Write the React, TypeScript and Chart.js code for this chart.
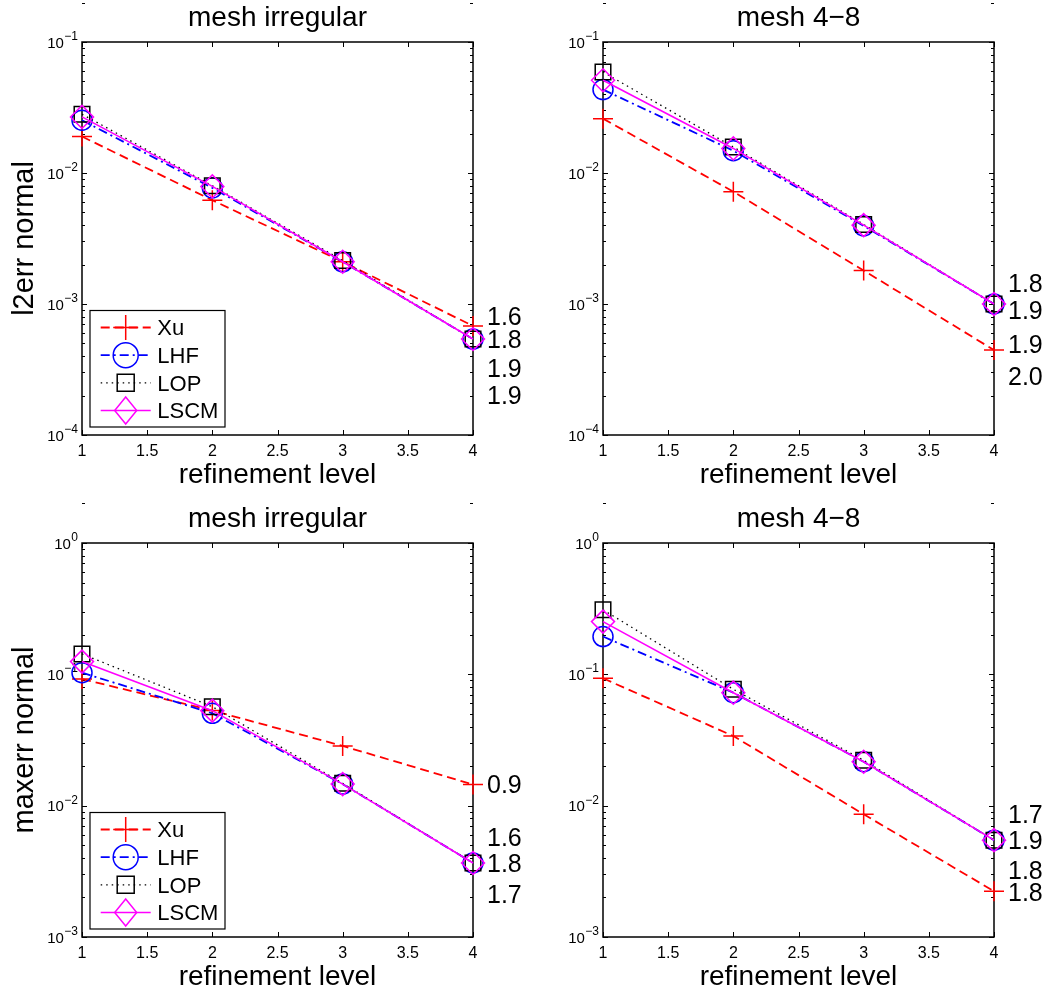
import React, { useEffect, useRef } from 'react';
import { Chart, registerables } from 'chart.js';

Chart.register(...registerables);

const FONT = "'Liberation Sans', Arial, Helvetica, sans-serif";

// ---------------- data ----------------
const levels = [1, 2, 3, 4];
const xTickValues = [1, 1.5, 2, 2.5, 3, 3.5, 4];
const seriesNames = ['Xu', 'LHF', 'LOP', 'LSCM'];

// l2err normal — mesh irregular
const l2IrregularXu = [0.019, 0.0062, 0.0021, 0.00068];
const l2IrregularLHF = [0.0253, 0.0077, 0.0021, 0.00054];
const l2IrregularLOP = [0.0281, 0.008, 0.00215, 0.00054];
const l2IrregularLSCM = [0.0268, 0.0079, 0.0021, 0.00054];
const l2IrregularRates = ['1.6', '1.8', '1.9', '1.9'];
const l2IrregularRateY = [0.000804, 0.00054, 0.000326, 0.000202];

// l2err normal — mesh 4-8
const l2Mesh48Xu = [0.026, 0.0072, 0.0018, 0.000445];
const l2Mesh48LHF = [0.0433, 0.0148, 0.00395, 0.001];
const l2Mesh48LOP = [0.059, 0.0158, 0.00405, 0.001];
const l2Mesh48LSCM = [0.051, 0.0154, 0.004, 0.001];
const l2Mesh48Rates = ['1.8', '1.9', '1.9', '2.0'];
const l2Mesh48RateY = [0.00145, 0.000898, 0.000492, 0.000282];

// maxerr normal — mesh irregular
const maxIrregularXu = [0.092, 0.053, 0.0285, 0.0145];
const maxIrregularLHF = [0.103, 0.0505, 0.0146, 0.00366];
const maxIrregularLOP = [0.143, 0.0567, 0.0148, 0.00366];
const maxIrregularLSCM = [0.125, 0.0529, 0.0146, 0.00366];
const maxIrregularRates = ['0.9', '1.6', '1.8', '1.7'];
const maxIrregularRateY = [0.0145, 0.00578, 0.00366, 0.00211];

// maxerr normal — mesh 4-8
const maxMesh48Xu = [0.0933, 0.0339, 0.0086, 0.00223];
const maxMesh48LHF = [0.194, 0.0725, 0.0216, 0.00546];
const maxMesh48LOP = [0.31, 0.0769, 0.0222, 0.00546];
const maxMesh48LSCM = [0.252, 0.0725, 0.0216, 0.00546];
const maxMesh48Rates = ['1.7', '1.9', '1.8', '1.8'];
const maxMesh48RateY = [0.0086, 0.00546, 0.00326, 0.0022];

const l2Decades = [-4, -3, -2, -1];
const maxDecades = [-3, -2, -1, 0];

// ---------------- styles ----------------
const seriesStyles = [
  { color: '#ff0000', dash: [9, 5], width: 1.8, pointStyle: 'cross', radius: 10 },
  { color: '#0000ff', dash: [9, 4, 2, 4], width: 1.8, pointStyle: 'circle', radius: 10 },
  { color: '#000000', dash: [1.5, 4], width: 1.3, pointStyle: 'rect', radius: 11 },
  { color: '#ff00ff', dash: [], width: 1.6, pointStyle: 'rectRot', radius: 11.5 },
];

function drawLegendMarker(ctx: CanvasRenderingContext2D, style: string, x: number, y: number) {
  ctx.beginPath();
  if (style === 'cross') {
    ctx.moveTo(x - 12.5, y); ctx.lineTo(x + 12.5, y);
    ctx.moveTo(x, y - 12.5); ctx.lineTo(x, y + 12.5);
  } else if (style === 'circle') {
    ctx.arc(x, y, 12.5, 0, Math.PI * 2);
  } else if (style === 'rect') {
    ctx.rect(x - 8.5, y - 8.5, 17, 17);
  } else {
    ctx.moveTo(x, y - 13.5); ctx.lineTo(x + 11, y); ctx.lineTo(x, y + 13.5); ctx.lineTo(x - 11, y);
    ctx.closePath();
  }
  ctx.stroke();
}

const matlabPlugin = {
  id: 'matlab',
  beforeDatasetsDraw(chart: any, _args: any, opts: any) {
    const ctx: CanvasRenderingContext2D = chart.ctx;
    const a = chart.chartArea;
    const xs = chart.scales.x;
    const ys = chart.scales.y;
    ctx.save();
    // box
    ctx.strokeStyle = '#000';
    ctx.lineWidth = 1.5;
    ctx.strokeRect(a.left, a.top, a.right - a.left, a.bottom - a.top);
    // ticks
    ctx.lineWidth = 1;
    ctx.beginPath();
    for (const t of xTickValues) {
      const px = Math.round(xs.getPixelForValue(t)) + 0.5;
      ctx.moveTo(px, a.bottom); ctx.lineTo(px, a.bottom - 5);
      ctx.moveTo(px, a.top); ctx.lineTo(px, a.top + 5);
    }
    const decs: number[] = opts.decades;
    for (let di = 0; di < decs.length; di++) {
      const e = decs[di];
      for (let k = 1; k <= 9; k++) {
        const v = k * Math.pow(10, e);
        const py = Math.round(ys.getPixelForValue(v)) + 0.5;
        const len = k === 1 ? 5 : 3;
        ctx.moveTo(a.left, py); ctx.lineTo(a.left + len, py);
        ctx.moveTo(a.right, py); ctx.lineTo(a.right - len, py);
      }
    }
    ctx.stroke();
    // y tick labels (10^e)
    const allDec = decs.concat([decs[decs.length - 1] + 1]);
    ctx.fillStyle = '#000';
    ctx.textBaseline = 'alphabetic';
    ctx.textAlign = 'left';
    for (const e of allDec) {
      const py = ys.getPixelForValue(Math.pow(10, e));
      const base = '10';
      const sup = e < 0 ? '\u2212' + Math.abs(e) : String(e);
      ctx.font = `15px ${FONT}`;
      const wb = ctx.measureText(base).width;
      ctx.font = `12px ${FONT}`;
      const ws = ctx.measureText(sup).width;
      const x0 = a.left - 4.5 - ws - wb;
      ctx.font = `15px ${FONT}`;
      ctx.fillText(base, x0, py + 5.5);
      ctx.font = `12px ${FONT}`;
      ctx.fillText(sup, x0 + wb + 0.5, py - 2);
    }
    ctx.restore();
  },
  afterDatasetsDraw(chart: any, _args: any, opts: any) {
    const ctx: CanvasRenderingContext2D = chart.ctx;
    const a = chart.chartArea;
    const ys = chart.scales.y;
    const cx = (a.left + a.right) / 2;
    ctx.save();
    ctx.fillStyle = '#000';
    ctx.textBaseline = 'alphabetic';
    // title
    ctx.textAlign = 'center';
    ctx.font = `28px ${FONT}`;
    ctx.fillText(opts.title, cx, a.top - 16);
    // x label
    ctx.fillText(opts.xlabel, cx, a.bottom + 48.3);
    // y label
    if (opts.ylabel) {
      ctx.save();
      ctx.translate(33, (a.top + a.bottom) / 2);
      ctx.rotate(-Math.PI / 2);
      ctx.font = `29px ${FONT}`;
      ctx.fillText(opts.ylabel, 0, 0);
      ctx.restore();
    }
    // rate labels
    ctx.textAlign = 'left';
    ctx.font = `25px ${FONT}`;
    const rt: string[] = opts.rateText;
    const ry: number[] = opts.rateY;
    for (let i = 0; i < rt.length; i++) {
      const py = ys.getPixelForValue(ry[i]);
      ctx.fillText(rt[i], a.right + 14, py + 0.358 * 25);
    }
    // legend
    if (opts.legend) {
      const bw = 135;
      const bh = 116.5;
      const bx = a.left + 8;
      const by = a.bottom - 8 - bh;
      ctx.fillStyle = '#fff';
      ctx.fillRect(bx, by, bw, bh);
      ctx.strokeStyle = '#000';
      ctx.lineWidth = 1.2;
      ctx.strokeRect(bx, by, bw, bh);
      const offs = [17, 44.7, 72.3, 100];
      chart.data.datasets.forEach((ds: any, i: number) => {
        const st = seriesStyles[i];
        const yy = by + offs[i];
        ctx.strokeStyle = st.color;
        ctx.lineWidth = st.width;
        ctx.setLineDash(st.dash);
        ctx.beginPath();
        ctx.moveTo(bx + 10.7, yy);
        ctx.lineTo(bx + 60.7, yy);
        ctx.stroke();
        ctx.setLineDash([]);
        ctx.lineWidth = 1.5;
        drawLegendMarker(ctx, st.pointStyle, bx + 35.7, yy);
        ctx.fillStyle = '#000';
        ctx.font = `22px ${FONT}`;
        ctx.fillText(ds.label, bx + 67.3, yy + 0.358 * 22);
      });
    }
    ctx.restore();
  },
};

type PanelSpec = {
  left: number; top: number; width: number; height: number;
  padTop: number; padRight: number; yAxisW: number; xAxisH: number;
  title: string; ylabel: string | null; legend: boolean;
  yMin: number; yMax: number; decades: number[];
  series: number[][]; rateText: string[]; rateY: number[];
};

const panels: PanelSpec[] = [
  {
    left: 0, top: 0, width: 530, height: 499, padTop: 42, padRight: 57, yAxisW: 82, xAxisH: 64,
    title: 'mesh irregular', ylabel: 'l2err normal', legend: true, yMin: 1e-4, yMax: 1e-1, decades: l2Decades,
    series: [l2IrregularXu, l2IrregularLHF, l2IrregularLOP, l2IrregularLSCM],
    rateText: l2IrregularRates, rateY: l2IrregularRateY,
  },
  {
    left: 530, top: 0, width: 529, height: 499, padTop: 42, padRight: 65, yAxisW: 73, xAxisH: 64,
    title: 'mesh 4\u22128', ylabel: null, legend: false, yMin: 1e-4, yMax: 1e-1, decades: l2Decades,
    series: [l2Mesh48Xu, l2Mesh48LHF, l2Mesh48LOP, l2Mesh48LSCM],
    rateText: l2Mesh48Rates, rateY: l2Mesh48RateY,
  },
  {
    left: 0, top: 500, width: 530, height: 498, padTop: 43, padRight: 57, yAxisW: 82, xAxisH: 61,
    title: 'mesh irregular', ylabel: 'maxerr normal', legend: true, yMin: 1e-3, yMax: 1, decades: maxDecades,
    series: [maxIrregularXu, maxIrregularLHF, maxIrregularLOP, maxIrregularLSCM],
    rateText: maxIrregularRates, rateY: maxIrregularRateY,
  },
  {
    left: 530, top: 500, width: 529, height: 498, padTop: 43, padRight: 65, yAxisW: 73, xAxisH: 61,
    title: 'mesh 4\u22128', ylabel: null, legend: false, yMin: 1e-3, yMax: 1, decades: maxDecades,
    series: [maxMesh48Xu, maxMesh48LHF, maxMesh48LOP, maxMesh48LSCM],
    rateText: maxMesh48Rates, rateY: maxMesh48RateY,
  },
];

function buildConfig(spec: PanelSpec): any {
  return {
    type: 'line',
    data: {
      datasets: spec.series.map((vals, i) => {
        const st = seriesStyles[i];
        return {
          label: seriesNames[i],
          data: levels.map((lv, j) => ({ x: lv, y: vals[j] })),
          borderColor: st.color,
          borderDash: st.dash,
          borderWidth: st.width,
          pointStyle: st.pointStyle,
          pointRadius: st.radius,
          pointBorderWidth: 1.5,
          pointBorderColor: st.color,
          pointBackgroundColor: 'rgba(0,0,0,0)',
          tension: 0,
          fill: false,
          clip: false,
          order: 3 - i,
        };
      }),
    },
    options: {
      responsive: false,
      animation: false,
      events: [],
      layout: { padding: { top: spec.padTop, right: spec.padRight, left: 0, bottom: 0 } },
      plugins: {
        legend: { display: false },
        tooltip: { enabled: false },
        matlab: {
          title: spec.title, xlabel: 'refinement level', ylabel: spec.ylabel, legend: spec.legend,
          decades: spec.decades, rateText: spec.rateText, rateY: spec.rateY,
        },
      },
      scales: {
        x: {
          type: 'linear', min: 1, max: 4,
          afterBuildTicks: (s: any) => { s.ticks = xTickValues.map((v) => ({ value: v })); },
          ticks: {
            color: '#000', font: { family: FONT, size: 16 }, padding: 7, maxRotation: 0, autoSkip: false,
            callback: (v: number) => String(v),
          },
          grid: { display: false, drawTicks: false },
          border: { display: false },
          afterFit: (s: any) => { s.height = spec.xAxisH; },
        },
        y: {
          type: 'logarithmic', min: spec.yMin, max: spec.yMax,
          ticks: { display: false },
          grid: { display: false, drawTicks: false },
          border: { display: false },
          afterFit: (s: any) => { s.width = spec.yAxisW; },
        },
      },
    },
    plugins: [matlabPlugin],
  };
}

function Panel({ spec }: { spec: PanelSpec }) {
  const ref = useRef<HTMLCanvasElement>(null);
  useEffect(() => {
    const chart = new Chart(ref.current as HTMLCanvasElement, buildConfig(spec));
    return () => chart.destroy();
  }, [spec]);
  return (
    <canvas
      ref={ref}
      width={spec.width}
      height={spec.height}
      style={{ position: 'absolute', left: spec.left, top: spec.top, width: spec.width, height: spec.height }}
    />
  );
}

export default function App() {
  return (
    <div style={{ position: 'absolute', left: 0, top: 0, width: 1059, height: 998, background: '#fff' }}>
      {panels.map((p, i) => (
        <Panel key={i} spec={p} />
      ))}
    </div>
  );
}
